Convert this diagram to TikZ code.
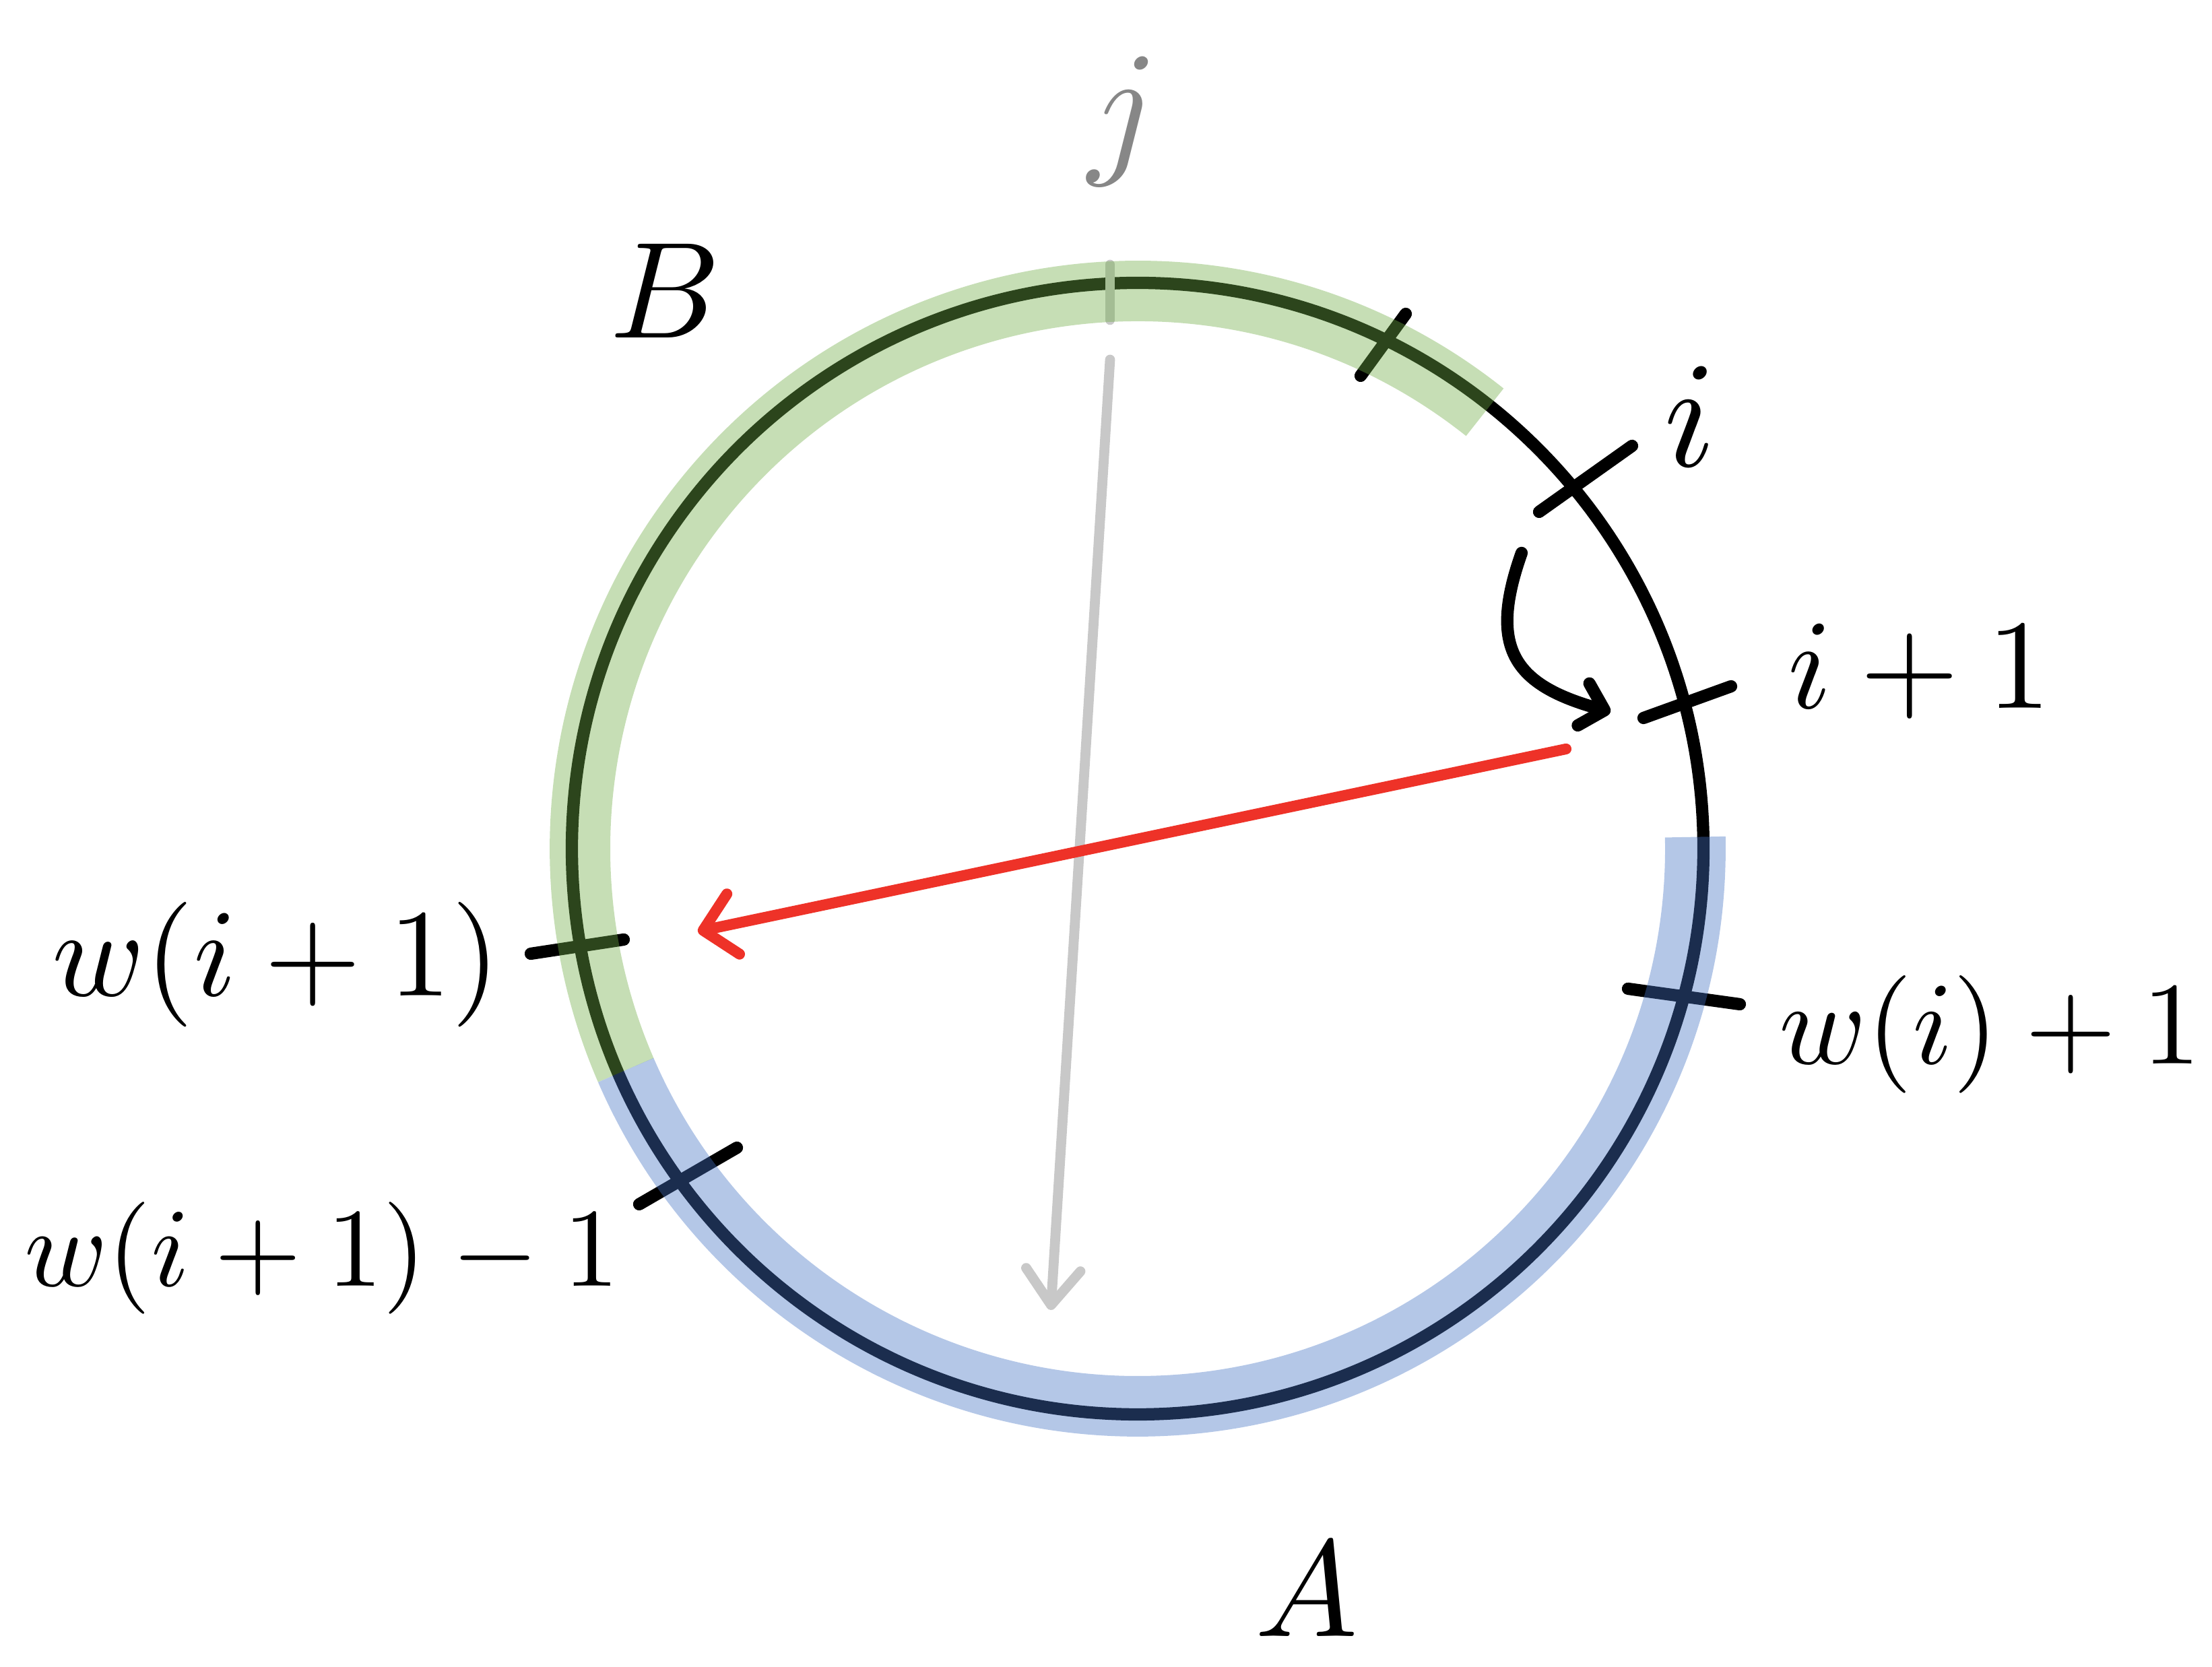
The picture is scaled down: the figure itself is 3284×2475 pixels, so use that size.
\documentclass[tikz,border=0pt]{standalone}
\usepackage{tikz}
\usetikzlibrary{arrows.meta}

\definecolor{bandgreen}{RGB}{112,173,71}
\definecolor{bandblue}{RGB}{68,114,196}
\definecolor{arrowred}{RGB}{238,50,40}
\definecolor{arrowgray}{RGB}{200,200,200}
\definecolor{labelgray}{RGB}{135,135,135}

\begin{document}
\begin{tikzpicture}[x=0.005cm, y=0.005cm,
  notch/.style={line width=2.6pt, line cap=round},
  band/.style={line width=12.8pt, draw opacity=0.4},
  lbl/.style={anchor=base, inner sep=0pt, scale=#1}]

\useasboundingbox (0,0) rectangle (3284,2475);

% the circle
\coordinate (centre) at (1689,1215);
\draw[line width=2.6pt] (centre) circle[radius=840];

% ticks on the circle
\draw[notch] (2020,1917) -- (2087,2009);
\draw[notch] (2285,1715) -- (2423,1813);
\draw[notch] (2440,1409) -- (2570,1456);
\draw[notch] (2417,1007) -- (2583,984);
\draw[notch] (788,1059) -- (926,1080);
\draw[notch] (949,687) -- (1094,771);
\draw[arrowgray, line width=2.1pt, line cap=round] (1648,2000) -- (1648,2082);

% plot the two bands
\draw[band, bandgreen] ([shift={(51.5:828)}]centre) arc[start angle=51.5, end angle=203.4, radius=828];
\draw[band, bandblue] ([shift={(1.2:828)}]centre) arc[start angle=1.2, end angle=-156.6, radius=828];

% arrows
\coordinate (j_start) at (1648,1941);
\coordinate (j_end) at (1560,530);
\draw[arrowgray, line width=2.1pt, line cap=round, -{Straight Barb[length=7.5pt, width=11.5pt, round]}] (j_start) -- (j_end);

\coordinate (red_start) at (2325,1363);
\coordinate (red_end) at (1036,1092);
\draw[arrowred, line width=2.3pt, line cap=round, -{Straight Barb[length=6.5pt, width=13pt, round]}] (red_start) -- (red_end);

\coordinate (turn_start) at (2259,1654);
\coordinate (turn_end) at (2391,1418);
\draw[line width=2.6pt, line cap=round, -{Straight Barb[length=4.6pt, width=9.2pt, round]}] (turn_start) .. controls (2209,1513) and (2247,1458) .. (turn_end);

% labels
\node[lbl=3.2, text=labelgray] (label_j) at (1668,2242) {$j$};
\node[lbl=2.9] (label_B) at (988,1973) {$B$};
\node[lbl=2.9] (label_A) at (1940,45) {$A$};
\node[lbl=3.2] (label_i) at (2509,1782) {$i$};
\node[lbl=2.7] (label_i1) at (2850,1423) {$i+1$};
\node[lbl=2.49] (label_wi1) at (2955,895) {$w(i)+1$};
\node[lbl=2.64] (label_wip) at (410,996) {$w(i+1)$};
\node[lbl=2.37] (label_wipm) at (478,565) {$w(i+1)-1$};

\end{tikzpicture}
\end{document}
